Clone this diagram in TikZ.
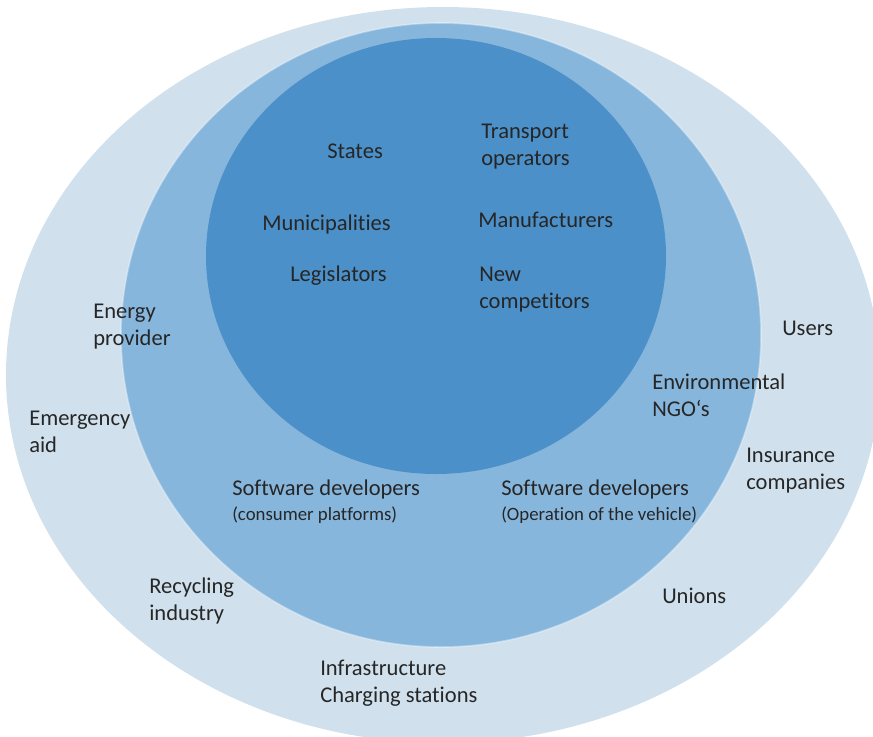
\documentclass[tikz,border=0pt]{standalone}
\usepackage{fontspec}
\setmainfont{Carlito}[Ligatures=NoCommon]
\usepackage{xcolor}
\usepackage{tikz}
\usetikzlibrary{positioning}

\definecolor{ringouter}{RGB}{208,225,237}
\definecolor{ringmid}{RGB}{135,182,221}
\definecolor{ringinner}{RGB}{75,144,200}
\definecolor{lbltext}{RGB}{38,38,38}
\newcommand{\subsize}{\fontsize{14.1pt}{17pt}\selectfont}

\begin{document}
\begin{tikzpicture}[
  x=0.75pt,y=-0.75pt,
  lbl/.style={anchor=base west,inner sep=0pt,align=left,text=lbltext,
    font=\fontsize{16.9pt}{20.2pt}\selectfont}
]
  \useasboundingbox (0,0) rectangle (873,736);
  \clip (0,0) rectangle (873,736);
  % the three circles of stakeholders
  \fill[ringouter] (443,375) ellipse [x radius=437,y radius=368];
  \fill[ringmid] (441,335) ellipse [x radius=320,y radius=312];
  \draw[white,opacity=0.35,line width=1.2] (441,335) ellipse [x radius=320,y radius=312];
  \fill[ringinner] (436,256) ellipse [x radius=230,y radius=218];

  % inner circle (base = last line)
  \node[lbl] (states) at (327,158) {States};
  \node[lbl] (transport) at (481,165) {Transport\\operators};
  \node[lbl] (munic) at (262,230) {Municipalities};
  \node[lbl] (manuf) at (478,227) {Manufacturers};
  \node[lbl] (legis) at (290,281) {Legislators};
  \node[lbl] (newcomp) at (479,308) {New\\competitors};

  % middle ring
  \node[lbl] (energy) at (93,345) {Energy\\provider};
  \node[lbl] (ngo) at (652,416) {Environmental\\NGO‘s};
  \node[lbl] (softcons) at (232,520)
    {Software developers\\[-2pt]{\subsize(consumer platforms)}};
  \node[lbl] (softveh) at (501,520)
    {Software developers\\[-2pt]{\subsize(Operation of the vehicle)}};

  % outer ring
  \node[lbl] (users) at (782,335) {Users};
  \node[lbl] (emerg) at (29,452) {Emergency\\aid};
  \node[lbl] (insur) at (746,489) {Insurance\\companies};
  \node[lbl] (recyc) at (149,620) {Recycling\\industry};
  \node[lbl] (unions) at (662,603) {Unions};
  \node[lbl] (infra) at (320,702) {Infrastructure\\Charging stations};
\end{tikzpicture}
\end{document}
